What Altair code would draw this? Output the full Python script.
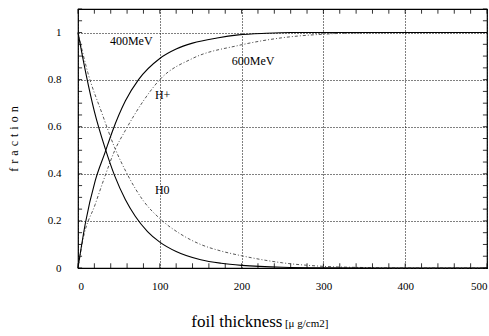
import altair as alt
import pandas as pd

# ---- data ----
h0_400_x = [0, 10, 20, 33, 45, 58, 70, 85, 100, 120, 150, 175, 200, 250, 300, 400, 500]
h0_400_y = [1.0, 0.82, 0.665, 0.51, 0.39, 0.29, 0.22, 0.155, 0.11, 0.07, 0.035, 0.02, 0.011, 0.003, 0.001, 0.0, 0.0]

hp_400_x = [0, 9, 21, 33, 42, 58, 74, 100, 120, 140, 170, 196, 230, 260, 400, 500]
hp_400_y = [0.0, 0.19, 0.37, 0.49, 0.58, 0.71, 0.80, 0.89, 0.93, 0.955, 0.977, 0.99, 0.997, 1.0, 1.0, 1.0]

h0_600_x = [0, 12, 29, 45, 60, 80, 100, 125, 150, 175, 200, 250, 300, 350, 400, 500]
h0_600_y = [1.0, 0.83, 0.66, 0.51, 0.40, 0.285, 0.21, 0.145, 0.10, 0.072, 0.052, 0.022, 0.007, 0.002, 0.0, 0.0]

hp_600_x = [0, 6, 21, 33, 45, 58, 80, 100, 140, 196, 250, 300, 350, 400, 500]
hp_600_y = [0.0, 0.12, 0.27, 0.39, 0.50, 0.585, 0.71, 0.80, 0.89, 0.945, 0.978, 0.993, 0.999, 1.0, 1.0]

x_ticks = [0, 100, 200, 300, 400, 500]
y_ticks = [0, 0.2, 0.4, 0.6, 0.8, 1.0]
x_minor = list(range(0, 501, 20))
y_minor = [round(v * 0.05, 2) for v in range(0, 23)]

labels_text = ["400MeV", "600MeV", "H+", "H0"]
labels_x = [39, 188, 94, 94]
labels_y = [0.965, 0.88, 0.735, 0.33]

FONT = "Liberation Serif"

rows = []
for name, xs_, ys_ in [("H0 400", h0_400_x, h0_400_y), ("H+ 400", hp_400_x, hp_400_y),
                       ("H0 600", h0_600_x, h0_600_y), ("H+ 600", hp_600_x, hp_600_y)]:
    for a, b in zip(xs_, ys_):
        rows.append({"curve": name, "energy": name.split()[1], "x": a, "y": b})
df = pd.DataFrame(rows)

xs = alt.Scale(domain=[0, 500], nice=False, zero=False)
ys = alt.Scale(domain=[0, 1.1], nice=False, zero=False)

base = alt.Chart(df)

grid = alt.Chart(pd.DataFrame({"x": [0]})).mark_point(opacity=0).encode(
    x=alt.X("x:Q", scale=xs, axis=alt.Axis(
        values=x_ticks, grid=True, gridColor="#000", gridDash=[1, 2], gridOpacity=1,
        gridWidth=1, ticks=False, domain=False, labelFont=FONT, labelFontSize=11,
        labelPadding=12, labelColor="#000", title=None)),
    y=alt.Y("x:Q", scale=ys, axis=alt.Axis(
        values=y_ticks, grid=True, gridColor="#000", gridDash=[1, 2], gridOpacity=1,
        gridWidth=1, ticks=False, domain=False, labelFont=FONT, labelFontSize=11,
        labelPadding=17, labelColor="#000",
        labelExpr="datum.value == 0 ? '0' : format(datum.value, '.1~f')",
        title="f\u2004r\u2004a\u2004c\u2004t\u2004i\u2004o\u2004n", titleFont=FONT, titleFontSize=12,
        titleFontWeight="normal", titlePadding=27, titleColor="#000")),
)

solid = base.transform_filter(alt.datum.energy == "400").mark_line(
    color="#000", strokeWidth=1.1, interpolate="monotone").encode(
    x=alt.X("x:Q", scale=xs), y=alt.Y("y:Q", scale=ys), detail="curve:N")

dashed = base.transform_filter(alt.datum.energy == "600").mark_line(
    color="#555", strokeWidth=1, strokeDash=[3, 2, 1, 2], interpolate="monotone").encode(
    x=alt.X("x:Q", scale=xs), y=alt.Y("y:Q", scale=ys), detail="curve:N")

xm = pd.DataFrame({"x": x_minor})
ym = pd.DataFrame({"y": y_minor})
bt = alt.Chart(xm).mark_rule(color="#000", strokeWidth=0.8).encode(
    x=alt.X("x:Q", scale=xs), y=alt.datum(0, scale=ys), y2=alt.datum(0.02))
tt = alt.Chart(xm).mark_rule(color="#000", strokeWidth=0.8).encode(
    x=alt.X("x:Q", scale=xs), y=alt.datum(1.1, scale=ys), y2=alt.datum(1.08))
lt = alt.Chart(ym).mark_rule(color="#000", strokeWidth=0.8).encode(
    y=alt.Y("y:Q", scale=ys), x=alt.datum(0, scale=xs), x2=alt.datum(5))
rt = alt.Chart(ym).mark_rule(color="#000", strokeWidth=0.8).encode(
    y=alt.Y("y:Q", scale=ys), x=alt.datum(500, scale=xs), x2=alt.datum(495))

lab = alt.Chart(pd.DataFrame({"t": labels_text, "x": labels_x, "y": labels_y})).mark_text(
    font=FONT, fontSize=12, align="left", baseline="middle", color="#000").encode(
    x=alt.X("x:Q", scale=xs), y=alt.Y("y:Q", scale=ys), text="t:N")

title1 = alt.Chart(pd.DataFrame({"t": ["foil thickness"], "x": [250], "y": [-0.25]})).mark_text(
    font=FONT, fontSize=17, align="right", baseline="alphabetic", color="#000").encode(
    x=alt.X("x:Q", scale=xs), y=alt.Y("y:Q", scale=ys), text="t:N")
title2 = alt.Chart(pd.DataFrame({"t": ["[\u03bc g/cm2]"], "x": [253], "y": [-0.25]})).mark_text(
    font=FONT, fontSize=11, align="left", baseline="alphabetic", color="#000").encode(
    x=alt.X("x:Q", scale=xs), y=alt.Y("y:Q", scale=ys), text="t:N")

chart = alt.layer(grid, bt, tt, lt, rt, dashed, solid, lab, title1, title2).properties(
    width=409, height=259,
    autosize=alt.AutoSizeParams(type="none"),
    padding={"left": 78, "top": 9, "right": 2, "bottom": 68},
    background="white",
).configure_view(stroke="#000", strokeWidth=1.2).configure_axis(
    labelFont=FONT, titleFont=FONT)

chart.save("out.html", embed_options={"renderer": "svg", "actions": False})
